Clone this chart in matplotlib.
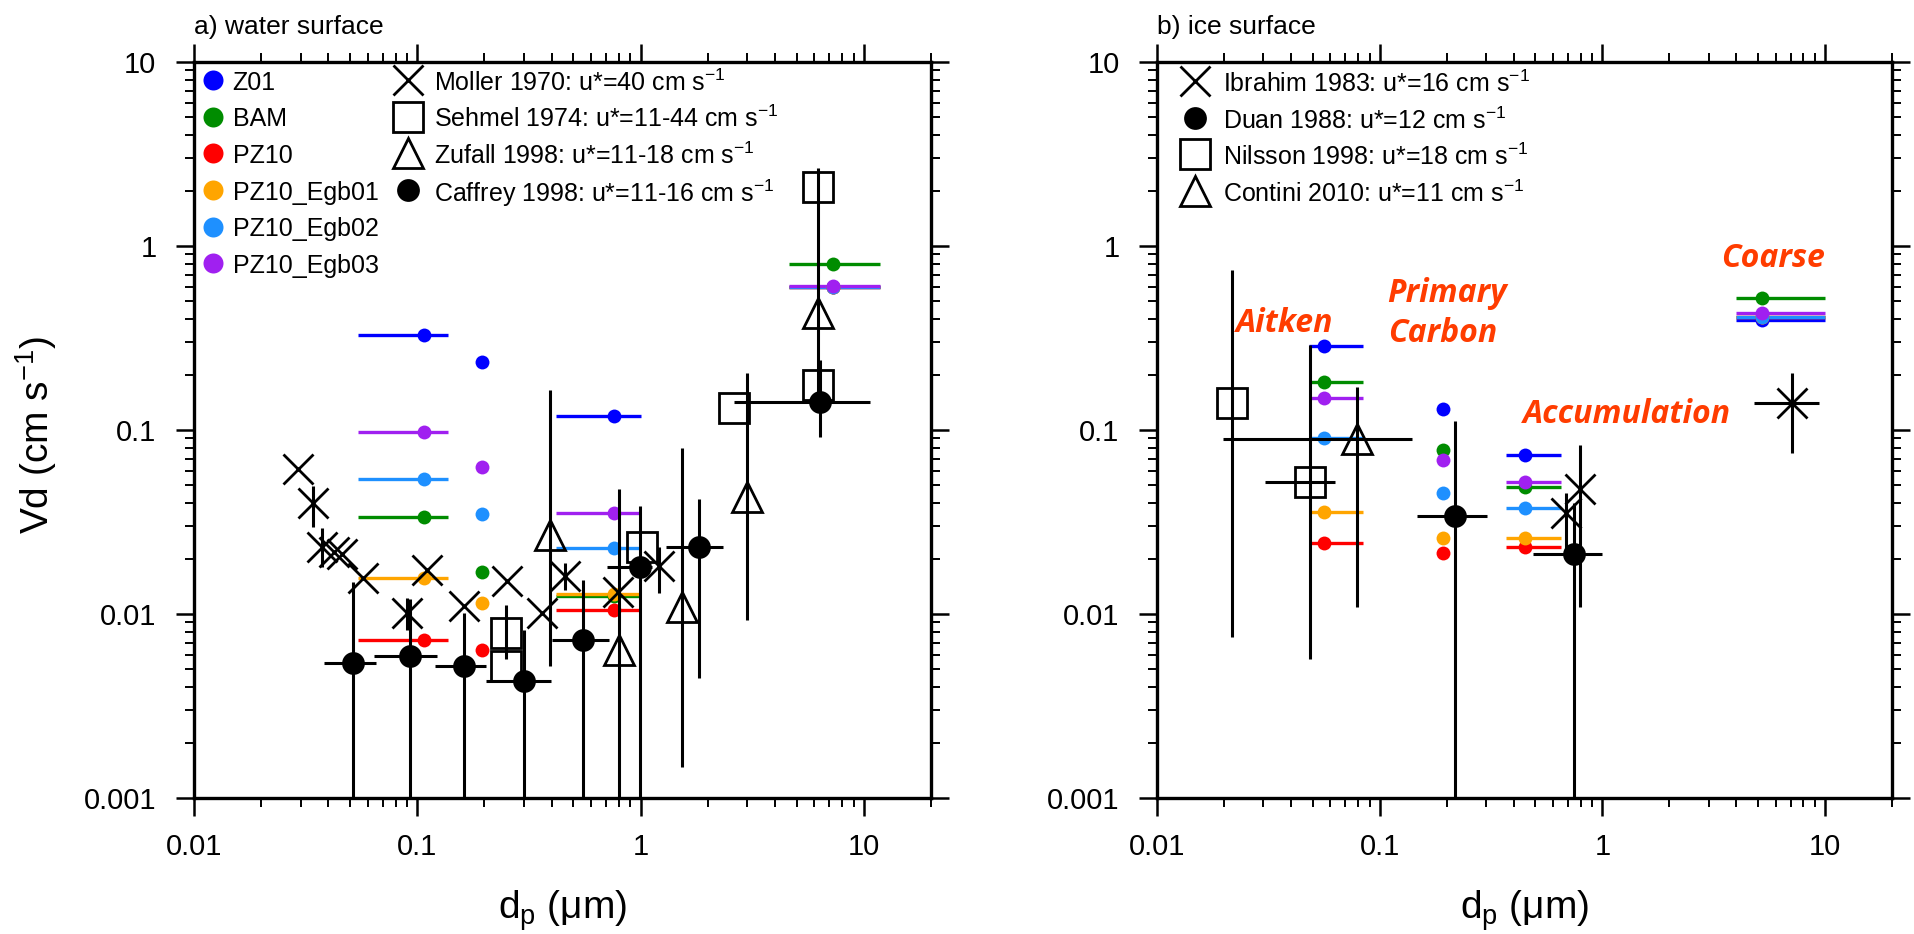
import matplotlib

matplotlib.use("Agg")
import matplotlib.pyplot as plt
import numpy as np
from matplotlib.ticker import NullFormatter, LogLocator

plt.rcParams["font.family"] = ["Liberation Sans", "DejaVu Sans"]
plt.rcParams["mathtext.default"] = "regular"

# ---- model schemes ----
scheme_names = ["Z01", "BAM", "PZ10", "PZ10_Egb01", "PZ10_Egb02", "PZ10_Egb03"]
scheme_colors = ["#0000ff", "#008c00", "#ff0000", "#ffa500", "#1e90ff", "#a020f0"]

# modes: Aitken, primary carbon, accumulation, coarse
water_mode_dp = [0.107, 0.195, 0.76, 7.3]
water_mode_lo = [0.054, np.nan, 0.42, 4.6]
water_mode_hi = [0.137, np.nan, 1.0, 11.8]
water_z01 = [0.328, 0.233, 0.119, 0.60]
water_bam = [0.0338, 0.0169, 0.0126, 0.80]
water_pz10 = [0.00725, 0.00637, 0.0105, 0.60]
water_egb01 = [0.0157, 0.0115, 0.0128, 0.60]
water_egb02 = [0.0542, 0.0349, 0.0229, 0.60]
water_egb03 = [0.097, 0.063, 0.0353, 0.607]

ice_mode_dp = [0.056, 0.193, 0.45, 5.2]
ice_mode_lo = [0.048, np.nan, 0.37, 4.0]
ice_mode_hi = [0.084, np.nan, 0.65, 10.0]
ice_z01 = [0.286, 0.130, 0.0731, 0.396]
ice_bam = [0.183, 0.0778, 0.0492, 0.524]
ice_pz10 = [0.0242, 0.0215, 0.0232, 0.41]
ice_egb01 = [0.036, 0.026, 0.026, 0.41]
ice_egb02 = [0.0905, 0.0456, 0.0378, 0.41]
ice_egb03 = [0.149, 0.0687, 0.0524, 0.43]

# ---- observations over water ----
moller_dp = [0.0291, 0.0342, 0.0375, 0.0425, 0.0459, 0.0572, 0.0896, 0.110,
             0.1616, 0.2527, 0.362, 0.46, 0.793, 1.212]
moller_vd = [0.0614, 0.040, 0.0232, 0.0218, 0.0211, 0.0157, 0.0101, 0.0173,
             0.0110, 0.0151, 0.0101, 0.0160, 0.0131, 0.0182]
moller_lo = [0.0614, 0.0298, 0.0181, 0.0218, 0.0211, 0.0157, 0.0082, 0.0173,
             0.0110, 0.0151, 0.0101, 0.0135, 0.0131, 0.0130]
moller_hi = [0.0614, 0.0496, 0.0292, 0.0218, 0.0211, 0.0157, 0.0122, 0.0173,
             0.0110, 0.0151, 0.0101, 0.0189, 0.0131, 0.0232]

sehmel_dp = [0.25, 0.25, 1.01, 2.63, 6.22, 6.22]
sehmel_vd = [0.0079, 0.0052, 0.0232, 0.131, 0.175, 2.1]
sehmel_lo = [0.0057, 0.0052, 0.0232, 0.131, 0.175, 2.1]
sehmel_hi = [0.0112, 0.0052, 0.0232, 0.131, 0.175, 2.1]

zufall_dp = [0.393, 0.80, 1.526, 3.0, 6.22]
zufall_vd = [0.0269, 0.0064, 0.0109, 0.0434, 0.43]
zufall_lo = [0.0052, 0.0001, 0.00148, 0.0093, 0.15]
zufall_hi = [0.165, 0.048, 0.0795, 0.204, 2.64]

caffrey_dp = [0.0517, 0.093, 0.1616, 0.301, 0.553, 0.998, 1.82, 6.37]
caffrey_dp_lo = [0.0381, 0.0643, 0.1199, 0.2022, 0.40, 0.71, 1.30, 2.63]
caffrey_dp_hi = [0.0654, 0.1225, 0.2037, 0.3963, 0.72, 1.12, 2.35, 10.7]
caffrey_vd = [0.0054, 0.0059, 0.00522, 0.00433, 0.00722, 0.0181, 0.0232, 0.1425]
caffrey_lo = [0.0001, 0.0001, 0.0001, 0.0001, 0.0001, 0.0001, 0.00447, 0.092]
caffrey_hi = [0.0150, 0.0120, 0.0101, 0.0082, 0.0153, 0.0386, 0.042, 0.24]

# ---- observations over ice ----
ibrahim_dp = [7.11, 0.796, 0.69]
ibrahim_dp_lo = [4.8, 0.796, 0.69]
ibrahim_dp_hi = [9.4, 0.796, 0.69]
ibrahim_vd = [0.1407, 0.0476, 0.0353]
ibrahim_lo = [0.0753, 0.0109, 0.0200]
ibrahim_hi = [0.2036, 0.0829, 0.0455]

duan_dp = [0.2175, 0.745]
duan_dp_lo = [0.147, 0.49]
duan_dp_hi = [0.302, 0.995]
duan_vd = [0.0341, 0.0211]
duan_lo = [0.0001, 0.0001]
duan_hi = [0.1123, 0.040]

nilsson_dp = [0.0217, 0.0487]
nilsson_dp_lo = [0.0217, 0.0305]
nilsson_dp_hi = [0.0217, 0.063]
nilsson_vd = [0.1407, 0.0524]
nilsson_lo = [0.00752, 0.00568]
nilsson_hi = [0.741, 0.29]

contini_dp = [0.0792]
contini_dp_lo = [0.0198]
contini_dp_hi = [0.1397]
contini_vd = [0.089]
contini_lo = [0.0109]
contini_hi = [0.172]

x_ticks = [0.01, 0.1, 1, 10]
x_tick_labels = ["0.01", "0.1", "1", "10"]
y_ticks = [0.001, 0.01, 0.1, 1, 10]
y_tick_labels = ["0.001", "0.01", "0.1", "1", "10"]

mode_names = ["Aitken", "Primary\nCarbon", "Accumulation", "Coarse"]

OBS_LW = 2.2
RED_TXT = "#ff3c00"


def style_axes(ax):
    ax.set_xscale("log")
    ax.set_yscale("log")
    ax.set_xlim(0.01, 20)
    ax.set_ylim(0.001, 10)
    ax.set_xticks(x_ticks, labels=x_tick_labels)
    ax.set_yticks(y_ticks, labels=y_tick_labels)
    ax.xaxis.set_minor_locator(LogLocator(base=10, subs=np.arange(2, 10)))
    ax.yaxis.set_minor_locator(LogLocator(base=10, subs=np.arange(2, 10)))
    ax.xaxis.set_minor_formatter(NullFormatter())
    ax.yaxis.set_minor_formatter(NullFormatter())
    ax.tick_params(which="major", direction="out", length=13, width=1.8,
                   top=True, right=True, labelsize=21)
    ax.tick_params(which="minor", direction="out", length=6.5, width=1.4,
                   top=True, right=True)
    ax.tick_params(axis="x", which="major", pad=12)
    ax.tick_params(axis="y", which="major", pad=14)
    for sp in ax.spines.values():
        sp.set_linewidth(2.4)


def draw_models(ax, mode_dp, mode_lo, mode_hi, series):
    for vals, col in zip(series, scheme_colors):
        ax.hlines(vals, mode_lo, mode_hi, colors=col, linewidth=2.4, zorder=2)
        ax.plot(mode_dp, vals, "o", color=col, ms=10, mec="none", zorder=3)


def draw_obs(ax, dp, vd, lo, hi, marker, ms, filled=False, dp_lo=None, dp_hi=None):
    dp = np.array(dp)
    vd = np.array(vd)
    yerr = [vd - np.array(lo), np.array(hi) - vd]
    xerr = None
    if dp_lo is not None:
        xerr = [dp - np.array(dp_lo), np.array(dp_hi) - dp]
    ax.errorbar(dp, vd, xerr=xerr, yerr=yerr, fmt=marker, ms=ms,
                mfc="k" if filled else "none", mec="k", mew=2.0,
                ecolor="k", elinewidth=OBS_LW, capsize=0, zorder=5)


fig = plt.figure(figsize=(19.15, 9.34), dpi=100)
ax1 = fig.add_axes([0.1013, 0.1456, 0.3849, 0.788])
ax2 = fig.add_axes([0.6042, 0.1456, 0.3838, 0.788])

# ---- a) water surface ----
style_axes(ax1)
draw_models(ax1, water_mode_dp, water_mode_lo, water_mode_hi,
            [water_z01, water_bam, water_pz10, water_egb01, water_egb02, water_egb03])
draw_obs(ax1, moller_dp, moller_vd, moller_lo, moller_hi, "x", 21.6)
draw_obs(ax1, sehmel_dp, sehmel_vd, sehmel_lo, sehmel_hi, "s", 21.6)
draw_obs(ax1, zufall_dp, zufall_vd, zufall_lo, zufall_hi, "^", 21.6)
draw_obs(ax1, caffrey_dp, caffrey_vd, caffrey_lo, caffrey_hi, "o", 14.4, filled=True,
         dp_lo=caffrey_dp_lo, dp_hi=caffrey_dp_hi)
ax1.set_title("a) water surface", loc="left", fontsize=19, pad=20)

# colored legend
for i, (name, col) in enumerate(zip(scheme_names, scheme_colors)):
    yy = 0.9755 - i * 0.0498
    ax1.plot(0.0252, yy, "o", color=col, ms=14.4, mec="none",
             transform=ax1.transAxes, clip_on=False, zorder=6)
    ax1.text(0.0525, yy, name, transform=ax1.transAxes, fontsize=18,
             va="center_baseline", ha="left")

water_leg = [
    ("x", False, 21.6, "Moller 1970: u*=40 cm s$^{-1}$"),
    ("s", False, 21.6, "Sehmel 1974: u*=11-44 cm s$^{-1}$"),
    ("^", False, 21.6, "Zufall 1998: u*=11-18 cm s$^{-1}$"),
    ("o", True, 14.4, "Caffrey 1998: u*=11-16 cm s$^{-1}$"),
]
for i, (mk, filled, ms, label) in enumerate(water_leg):
    yy = 0.9755 - i * 0.0498
    ax1.plot(0.290, yy, mk, ms=ms, mfc="k" if filled else "none", mec="k", mew=2.0,
             transform=ax1.transAxes, clip_on=False, zorder=6)
    ax1.text(0.3263, yy, label, transform=ax1.transAxes, fontsize=18,
             va="center_baseline", ha="left")

# ---- b) ice surface ----
style_axes(ax2)
draw_models(ax2, ice_mode_dp, ice_mode_lo, ice_mode_hi,
            [ice_z01, ice_bam, ice_pz10, ice_egb01, ice_egb02, ice_egb03])
draw_obs(ax2, ibrahim_dp, ibrahim_vd, ibrahim_lo, ibrahim_hi, "x", 21.6,
         dp_lo=ibrahim_dp_lo, dp_hi=ibrahim_dp_hi)
draw_obs(ax2, duan_dp, duan_vd, duan_lo, duan_hi, "o", 14.4, filled=True,
         dp_lo=duan_dp_lo, dp_hi=duan_dp_hi)
draw_obs(ax2, nilsson_dp, nilsson_vd, nilsson_lo, nilsson_hi, "s", 21.6,
         dp_lo=nilsson_dp_lo, dp_hi=nilsson_dp_hi)
draw_obs(ax2, contini_dp, contini_vd, contini_lo, contini_hi, "^", 21.6,
         dp_lo=contini_dp_lo, dp_hi=contini_dp_hi)
ax2.set_title("b) ice surface", loc="left", fontsize=19, pad=20)

ice_leg = [
    ("x", False, 21.6, "Ibrahim 1983: u*=16 cm s$^{-1}$"),
    ("o", True, 14.4, "Duan 1988: u*=12 cm s$^{-1}$"),
    ("s", False, 21.6, "Nilsson 1998: u*=18 cm s$^{-1}$"),
    ("^", False, 21.6, "Contini 2010: u*=11 cm s$^{-1}$"),
]
for i, (mk, filled, ms, label) in enumerate(ice_leg):
    yy = 0.974 - i * 0.0498
    ax2.plot(0.0521, yy, mk, ms=ms, mfc="k" if filled else "none", mec="k", mew=2.0,
             transform=ax2.transAxes, clip_on=False, zorder=6)
    ax2.text(0.0902, yy, label, transform=ax2.transAxes, fontsize=18,
             va="center_baseline", ha="left")

# mode annotations
mode_txt_x = [0.0225, 0.1085, 0.438, 3.42]
mode_txt_y = [0.342, 0.302, 0.109, 0.766]
for name, tx, ty in zip(mode_names, mode_txt_x, mode_txt_y):
    ax2.text(tx, ty, name, color=RED_TXT, fontsize=23, fontweight="bold",
             fontstyle="italic", family=["Open Sans", "DejaVu Sans"],
             ha="left", va="baseline", linespacing=1.25, zorder=7)

fig.text(0.0188, 0.534, "Vd (cm s$^{-1}$)", rotation=90, ha="center", va="center", fontsize=28)
fig.text((0.1013 + 0.3849 / 2), 0.0246, "d$_p$ (\u03bcm)", ha="center", va="center", fontsize=28)
fig.text((0.6042 + 0.3838 / 2), 0.0246, "d$_p$ (\u03bcm)", ha="center", va="center", fontsize=28)

fig.savefig("out.png", dpi=100, facecolor="white")
